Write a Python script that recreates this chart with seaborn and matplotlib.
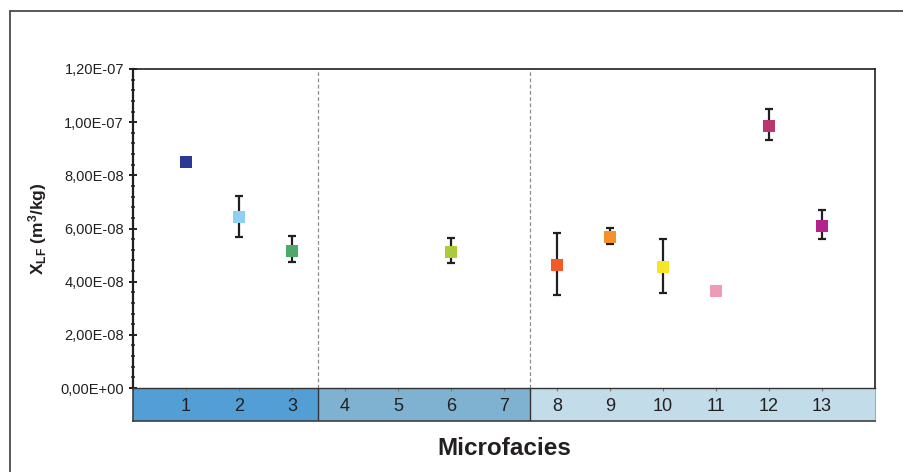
import numpy as np
import pandas as pd
import matplotlib
matplotlib.use("Agg")
import matplotlib.pyplot as plt
from matplotlib.ticker import MultipleLocator, FuncFormatter
from matplotlib.lines import Line2D
import seaborn as sns

# ---------------- data ----------------
all_microfacies = [1, 2, 3, 4, 5, 6, 7, 8, 9, 10, 11, 12, 13]
microfacies = [1, 2, 3, 6, 8, 9, 10, 11, 12, 13]
xlf = [8.50e-8, 6.43e-8, 5.15e-8, 5.12e-8, 4.63e-8, 5.68e-8, 4.55e-8, 3.65e-8, 9.86e-8, 6.09e-8]
xlf_upper = [np.nan, 7.23e-8, 5.73e-8, 5.66e-8, 5.84e-8, 6.03e-8, 5.61e-8, np.nan, 10.50e-8, 6.71e-8]
xlf_lower = [np.nan, 5.68e-8, 4.74e-8, 4.70e-8, 3.51e-8, 5.42e-8, 3.59e-8, np.nan, 9.33e-8, 5.61e-8]
colors = ["#2B3896", "#8ED0EF", "#4EA96B", "#AACB3A", "#F45A27",
          "#F6912A", "#F7E627", "#EE9AB9", "#B83771", "#B52290"]
group_bounds = [0, 3.5, 7.5, 14]
group_colors = ["#539FD5", "#7EB2D0", "#C2DDE9"]
ytick_values = [0, 2e-8, 4e-8, 6e-8, 8e-8, 10e-8, 12e-8]

df = pd.DataFrame({"mf": microfacies, "xlf": xlf,
                   "hi": xlf_upper, "lo": xlf_lower,
                   "label": [str(m) for m in microfacies]})
palette = dict(zip(df["label"], colors))

# ---------------- style ----------------
sns.set_style("ticks")
plt.rcParams["font.family"] = ["Liberation Sans", "DejaVu Sans"]
plt.rcParams["mathtext.fontset"] = "custom"
plt.rcParams["mathtext.rm"] = "Liberation Sans"
plt.rcParams["mathtext.bf"] = "Liberation Sans:bold"
plt.rcParams["mathtext.it"] = "Liberation Sans:italic"

dark = "#231F20"
W, H = 904, 472
fig = plt.figure(figsize=(W / 100, H / 100), dpi=100)

def frac(x0, y0, x1, y1):
    return [x0 / W, 1 - y1 / H, (x1 - x0) / W, (y1 - y0) / H]

ax = fig.add_axes(frac(133, 69, 875, 388))
band = fig.add_axes(frac(133, 388, 875, 421))
ax.set_zorder(3)
band.set_zorder(1)

# outer frame (partially visible)
fig.add_artist(Line2D([10 / W, 10 / W], [1 - 11 / H, 0], color="#4a4a4a", lw=1.3,
                      transform=fig.transFigure))
fig.add_artist(Line2D([10 / W, 1], [1 - 11 / H, 1 - 11 / H], color="#4a4a4a", lw=1.3,
                      transform=fig.transFigure))

# ---------------- main plot ----------------
for b in group_bounds[1:-1]:
    ax.axvline(b, color="#8c8c8c", lw=0.9, ls=(0, (3, 2)), zorder=1)

mask = df["hi"].notna()
yerr = np.vstack([(df["xlf"] - df["lo"])[mask], (df["hi"] - df["xlf"])[mask]])
ax.errorbar(df["mf"][mask], df["xlf"][mask], yerr=yerr, fmt="none",
            ecolor=dark, elinewidth=1.6, capsize=3.2, capthick=1.6, zorder=2)

sns.scatterplot(data=df, x="mf", y="xlf", hue="label", palette=palette,
                marker="s", s=82, linewidth=0, legend=False, ax=ax, zorder=4)

ax.set_xlim(0, 14)
ax.set_ylim(0, 1.2e-7)
ax.set_yticks(ytick_values)
ax.yaxis.set_minor_locator(MultipleLocator(4e-9))
ax.yaxis.set_major_formatter(FuncFormatter(lambda v, p: f"{v:.2E}".replace(".", ",")))
ax.tick_params(axis="y", which="major", direction="inout", length=6, width=1.4,
               color=dark, labelsize=10.5, labelcolor=dark, pad=3.5)
ax.tick_params(axis="y", which="minor", direction="inout", length=3, width=1.1, color=dark)

ax.set_xticks(all_microfacies)
ax.set_xticklabels([str(m) for m in all_microfacies])
ax.tick_params(axis="x", which="major", direction="out", length=2.2, width=0.8,
               color="#777777", labelsize=13, labelcolor=dark, pad=5)

ax.set_xlabel("")
ax.set_ylabel(r"$\mathbf{X_{LF}\ (m^{3}/kg)}$", fontsize=12.5, color=dark, va="center")
ax.yaxis.set_label_coords((38 - 133) / (875 - 133), 0.5)

for side in ["top", "right"]:
    ax.spines[side].set_color(dark)
    ax.spines[side].set_linewidth(1.2)
ax.spines["left"].set_color(dark)
ax.spines["left"].set_linewidth(1.6)
ax.spines["bottom"].set_color("#333333")
ax.spines["bottom"].set_linewidth(1.0)
ax.patch.set_alpha(0)

# ---------------- band ----------------
band.set_xlim(0, 14)
band.set_ylim(0, 1)
for i, c in enumerate(group_colors):
    band.axvspan(group_bounds[i], group_bounds[i + 1], color=c, lw=0)
for b in group_bounds[1:-1]:
    band.axvline(b, color="#333333", lw=1.0)
band.set_xticks([])
band.set_yticks([])
band.spines["top"].set_visible(False)
band.spines["left"].set_color("#404040")
band.spines["left"].set_linewidth(1.2)
band.spines["bottom"].set_color("#404040")
band.spines["bottom"].set_linewidth(1.2)
band.spines["right"].set_color("#a0b0b8")
band.spines["right"].set_linewidth(0.8)

fig.text(504 / W, 1 - 455 / H, "Microfacies", ha="center", va="baseline",
         fontsize=17.5, fontweight="bold", color=dark)

fig.savefig("out.png", dpi=100)
